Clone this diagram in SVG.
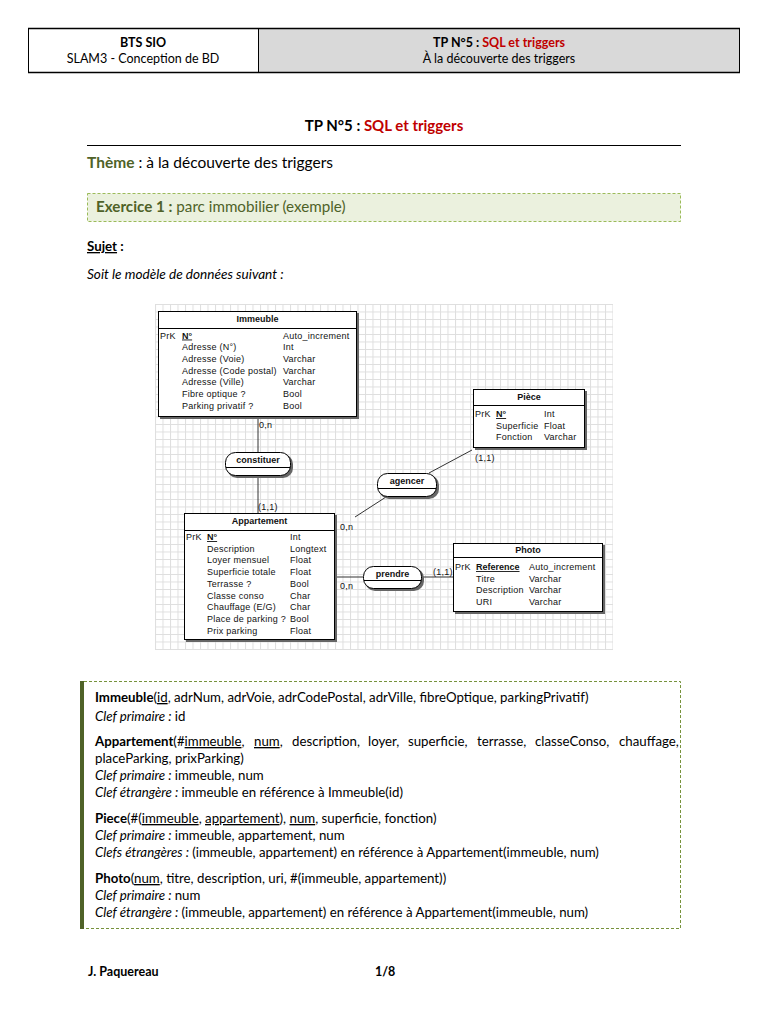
<svg xmlns="http://www.w3.org/2000/svg" width="768" height="1024" viewBox="0 0 768 1024">
<defs>
<style>
.doc{font-family:Lato,"Liberation Sans",sans-serif;fill:#000;}
.er{font-family:"Liberation Sans",Arial,sans-serif;font-size:9px;fill:#111;letter-spacing:0.25px;}
.erb{font-weight:bold;letter-spacing:0;}
.box{fill:#fff;stroke:#000;stroke-width:1;}
.shadow{fill:#666;}
.hl{stroke:#000;stroke-width:1;}
.conn{stroke:#333;stroke-width:1;fill:none;}
.b{font-weight:bold;}
.i{font-style:italic;}
.u{text-decoration:underline;}
.red{fill:#c00000;}
.grn{fill:#4f6228;}
.mid{text-anchor:middle;}
.rel{font-size:13.25px;}
</style>
<pattern id="grid" x="155" y="304" width="7.5" height="7.5" patternUnits="userSpaceOnUse">
<path d="M0 0.5H7.5M0.5 0V7.5" stroke="#dedede" stroke-width="1" fill="none"/>
</pattern>
</defs>
<rect x="0" y="0" width="768" height="1024" fill="#fff"/>

<!-- page header table -->
<g id="header">
<rect x="28" y="28" width="230" height="45" fill="#fff"/>
<rect x="258" y="28" width="482" height="45" fill="#d9d9d9"/>
<path d="M28 28.5H740M28 72.5H740" stroke="#000" stroke-width="1.5"/>
<path d="M28.5 28V73M258.5 28V73M739.5 28V73" stroke="#000" stroke-width="1"/>
<text class="doc b mid" x="143" y="47" font-size="12.5">BTS SIO</text>
<text class="doc mid" x="143" y="63" font-size="12.5">SLAM3 - Conception de BD</text>
<text class="doc b mid" x="499" y="47" font-size="12.5">TP N°5 : <tspan class="red">SQL et triggers</tspan></text>
<text class="doc mid" x="499" y="63" font-size="12.5">À la découverte des triggers</text>
</g>

<g id="title">
<text class="doc b mid" x="384" y="131" font-size="15">TP N°5 : <tspan class="red">SQL et triggers</tspan></text>
<path d="M87 145.5H681" stroke="#000" stroke-width="1"/>
<text class="doc" x="87" y="168" font-size="15.5"><tspan class="b grn">Thème</tspan> : à la découverte des triggers</text>
</g>

<g id="exercice">
<rect x="87.5" y="193.5" width="593" height="28" fill="#ebf1de" stroke="#9bbb59" stroke-width="1" stroke-dasharray="3,2"/>
<text class="doc grn" x="96" y="212" font-size="15.2"><tspan class="b">Exercice 1 :</tspan> parc immobilier (exemple)</text>
</g>

<g id="sujet">
<text class="doc b" x="87" y="251" font-size="13.3"><tspan class="u">Sujet</tspan> :</text>
<text class="doc i" x="87" y="279" font-size="13.6">Soit le modèle de données suivant :</text>
</g>

<!-- ER diagram -->
<rect id="grid-bg" x="155" y="304" width="458" height="346" fill="url(#grid)"/>

<g id="connectors">
<path class="conn" d="M258 417V452M258 476V513"/>
<path class="conn" d="M355 517L386 497M429 473L472 450"/>
<path class="conn" d="M335 577H363M422 577H453" stroke="#555"/>
<text class="er" x="259" y="428">0,n</text>
<text class="er" x="258" y="510">(1,1)</text>
<text class="er" x="340" y="530">0,n</text>
<text class="er" x="475" y="461">(1,1)</text>
<text class="er" x="340" y="589">0,n</text>
<text class="er" x="433" y="575">(1,1)</text>
</g>

<g id="immeuble">
<rect class="shadow" x="160" y="313" width="199" height="106"/>
<rect class="box" x="158.5" y="311.5" width="198" height="105"/>
<path class="hl" d="M158.5 328.5H356.5"/>
<text class="er erb mid" x="257.5" y="322">Immeuble</text>
<text class="er" x="160" y="338.5">PrK</text>
<text class="er erb u" x="182" y="338.5">N°</text>
<text class="er" x="283" y="338.5">Auto_increment</text>
<text class="er" x="182" y="350.2">Adresse (N°)</text><text class="er" x="283" y="350.2">Int</text>
<text class="er" x="182" y="361.9">Adresse (Voie)</text><text class="er" x="283" y="361.9">Varchar</text>
<text class="er" x="182" y="373.6">Adresse (Code postal)</text><text class="er" x="283" y="373.6">Varchar</text>
<text class="er" x="182" y="385.3">Adresse (Ville)</text><text class="er" x="283" y="385.3">Varchar</text>
<text class="er" x="182" y="397">Fibre optique ?</text><text class="er" x="283" y="397">Bool</text>
<text class="er" x="182" y="408.7">Parking privatif ?</text><text class="er" x="283" y="408.7">Bool</text>
</g>

<g id="appartement">
<rect class="shadow" x="186" y="515" width="151" height="127"/>
<rect class="box" x="184.5" y="513.5" width="150" height="126"/>
<path class="hl" d="M184.5 530.5H334.5"/>
<text class="er erb mid" x="259.5" y="524">Appartement</text>
<text class="er" x="186" y="540">PrK</text>
<text class="er erb u" x="207" y="540">N°</text>
<text class="er" x="290" y="540">Int</text>
<text class="er" x="207" y="551.7">Description</text><text class="er" x="290" y="551.7">Longtext</text>
<text class="er" x="207" y="563.4">Loyer mensuel</text><text class="er" x="290" y="563.4">Float</text>
<text class="er" x="207" y="575.1">Superficie totale</text><text class="er" x="290" y="575.1">Float</text>
<text class="er" x="207" y="586.8">Terrasse ?</text><text class="er" x="290" y="586.8">Bool</text>
<text class="er" x="207" y="598.5">Classe conso</text><text class="er" x="290" y="598.5">Char</text>
<text class="er" x="207" y="610.2">Chauffage (E/G)</text><text class="er" x="290" y="610.2">Char</text>
<text class="er" x="207" y="621.9">Place de parking ?</text><text class="er" x="290" y="621.9">Bool</text>
<text class="er" x="207" y="633.6">Prix parking</text><text class="er" x="290" y="633.6">Float</text>
</g>

<g id="piece">
<rect class="shadow" x="475" y="391" width="112" height="59"/>
<rect class="box" x="473.5" y="389.5" width="111" height="58"/>
<path class="hl" d="M473.5 405.5H584.5"/>
<text class="er erb mid" x="529" y="400">Pièce</text>
<text class="er" x="475" y="417">PrK</text>
<text class="er erb u" x="496" y="417">N°</text>
<text class="er" x="544" y="417">Int</text>
<text class="er" x="496" y="428.7">Superficie</text><text class="er" x="544" y="428.7">Float</text>
<text class="er" x="496" y="440.4">Fonction</text><text class="er" x="544" y="440.4">Varchar</text>
</g>

<g id="photo">
<rect class="shadow" x="455" y="545" width="150" height="69"/>
<rect class="box" x="453.5" y="543.5" width="149" height="68"/>
<path class="hl" d="M453.5 557.5H602.5"/>
<text class="er erb mid" x="528" y="553">Photo</text>
<text class="er" x="455" y="570">PrK</text>
<text class="er erb u" x="476" y="570">Reference</text>
<text class="er" x="529" y="570">Auto_increment</text>
<text class="er" x="476" y="581.7">Titre</text><text class="er" x="529" y="581.7">Varchar</text>
<text class="er" x="476" y="593.4">Description</text><text class="er" x="529" y="593.4">Varchar</text>
<text class="er" x="476" y="605.1">URI</text><text class="er" x="529" y="605.1">Varchar</text>
</g>

<g id="constituer">
<rect class="shadow" x="227" y="454" width="66" height="24" rx="10"/>
<rect class="box" x="225.5" y="452.5" width="65" height="23" rx="10"/>
<path class="hl" d="M226 467.5H290" stroke="#444"/>
<text class="er erb mid" x="258" y="463">constituer</text>
</g>

<g id="agencer">
<rect class="shadow" x="379" y="475" width="60" height="24" rx="10"/>
<rect class="box" x="377.5" y="473.5" width="59" height="23" rx="10"/>
<path class="hl" d="M378 488.5H436" stroke="#444"/>
<text class="er erb mid" x="407" y="484">agencer</text>
</g>

<g id="prendre">
<rect class="shadow" x="365" y="568" width="59" height="23" rx="10"/>
<rect class="box" x="363.5" y="566.5" width="58" height="22" rx="10"/>
<path class="hl" d="M364 580.5H421" stroke="#444"/>
<text class="er erb mid" x="392.5" y="577">prendre</text>
</g>

<!-- relational schema -->
<g id="schema">
<rect x="80" y="681" width="4" height="248" fill="#4f6228"/>
<path d="M84 681.5H680.5V928.5H84" fill="none" stroke="#76923c" stroke-width="1" stroke-dasharray="3,2"/>
<text class="doc rel" x="95" y="702"><tspan class="b">Immeuble</tspan>(<tspan class="u">id</tspan>, adrNum, adrVoie, adrCodePostal, adrVille, fibreOptique, parkingPrivatif)</text>
<text class="doc rel" x="95" y="721"><tspan class="i">Clef primaire : </tspan>id</text>
<text class="doc rel" y="746"><tspan x="95"><tspan class="b">Appartement</tspan>(#<tspan class="u">immeuble</tspan>,</tspan><tspan x="254"><tspan class="u">num</tspan>,</tspan><tspan x="292">description,</tspan><tspan x="368">loyer,</tspan><tspan x="408">superficie,</tspan><tspan x="477">terrasse,</tspan><tspan x="535">classeConso,</tspan><tspan x="619">chauffage,</tspan></text>
<text class="doc rel" x="95" y="763">placeParking, prixParking)</text>
<text class="doc rel" x="95" y="780"><tspan class="i">Clef primaire : </tspan>immeuble, num</text>
<text class="doc rel" x="95" y="797"><tspan class="i">Clef étrangère : </tspan>immeuble en référence à Immeuble(id)</text>
<text class="doc rel" x="95" y="823"><tspan class="b">Piece</tspan>(#(<tspan class="u">immeuble</tspan>, <tspan class="u">appartement</tspan>), <tspan class="u">num</tspan>, superficie, fonction)</text>
<text class="doc rel" x="95" y="840"><tspan class="i">Clef primaire : </tspan>immeuble, appartement, num</text>
<text class="doc rel" x="95" y="857"><tspan class="i">Clefs étrangères : </tspan>(immeuble, appartement) en référence à Appartement(immeuble, num)</text>
<text class="doc rel" x="95" y="883"><tspan class="b">Photo</tspan>(<tspan class="u">num</tspan>, titre, description, uri, #(immeuble, appartement))</text>
<text class="doc rel" x="95" y="900"><tspan class="i">Clef primaire : </tspan>num</text>
<text class="doc rel" x="95" y="917"><tspan class="i">Clef étrangère : </tspan>(immeuble, appartement) en référence à Appartement(immeuble, num)</text>
</g>

<g id="footer">
<text class="doc b" x="88" y="976" font-size="12.5">J. Paquereau</text>
<text class="doc b" x="375" y="976" font-size="12.5">1/8</text>
</g>
</svg>
